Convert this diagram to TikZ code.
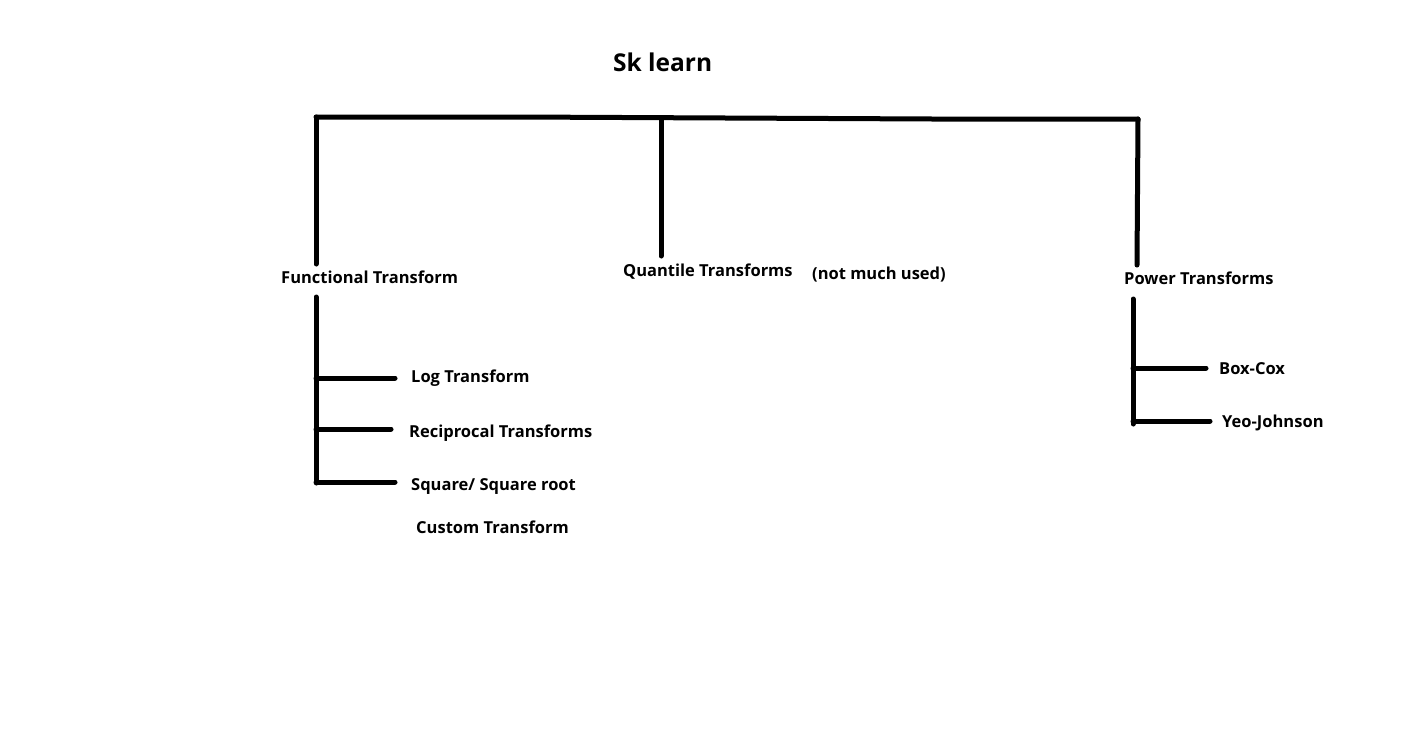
\documentclass[tikz,border=0pt]{standalone}
\usepackage{fontspec}
\setmainfont{Open Sans}
\begin{document}
\begin{tikzpicture}[x=1pt,y=-1pt,
  lbl/.style={anchor=base west,inner sep=0pt,font=\fontsize{16.5}{19}\selectfont\bfseries},
  ttl/.style={anchor=base west,inner sep=0pt,font=\fontsize{24.5}{29}\selectfont\bfseries},
  wire/.style={line width=5pt,line cap=round,line join=round}]
\useasboundingbox[fill=white] (0,0) rectangle (1402,732);
% titles
\node[ttl] (sk) at (613,71) {Sk learn};
\node[lbl] (ft) at (281,283) {Functional Transform};
\node[lbl] (qt) at (623,276) {Quantile Transforms};
\node[lbl] (nmu) at (812,279) {(not much used)};
\node[lbl] (pt) at (1124,284) {Power Transforms};
\node[lbl] (log) at (411,382) {Log Transform};
\node[lbl] (rec) at (409,437) {Reciprocal Transforms};
\node[lbl] (sq) at (411,490) {Square/ Square root};
\node[lbl] (cus) at (416,533) {Custom Transform};
\node[lbl] (bc) at (1219,374) {Box-Cox};
\node[lbl] (yj) at (1222,427) {Yeo-Johnson};
% coordinates
\coordinate (tl) at (316,117);
\coordinate (tm1) at (520,117);
\coordinate (tm2) at (933,119);
\coordinate (tr) at (1138,119);
\coordinate (qtop) at (661,118);
\coordinate (lbot) at (316,264);
\coordinate (qbot) at (661,256);
\coordinate (rbot) at (1137,265);
\coordinate (fs1) at (316,297);
\coordinate (fs2) at (316,483);
\coordinate (fl) at (316,378);
\coordinate (fle) at (395,378);
\coordinate (fr) at (316,429);
\coordinate (fre) at (391,429);
\coordinate (fq) at (316,482);
\coordinate (fqe) at (395,482);
\coordinate (ps1) at (1133,299);
\coordinate (ps2) at (1133,424);
\coordinate (pb) at (1133,368);
\coordinate (pbe) at (1206,368);
\coordinate (py) at (1133,421);
\coordinate (pye) at (1210,421);
% wires
\draw[wire] (tl) -- (tm1) -- (tm2) -- (tr);
\draw[wire] (tl) -- (lbot);
\draw[wire] (qtop) -- (qbot);
\draw[wire] (tr) -- (rbot);
\draw[wire] (fs1) -- (fs2);
\draw[wire] (fl) -- (fle);
\draw[wire] (fr) -- (fre);
\draw[wire] (fq) -- (fqe);
\draw[wire] (ps1) -- (ps2);
\draw[wire] (pb) -- (pbe);
\draw[wire] (py) -- (pye);
\end{tikzpicture}
\end{document}
